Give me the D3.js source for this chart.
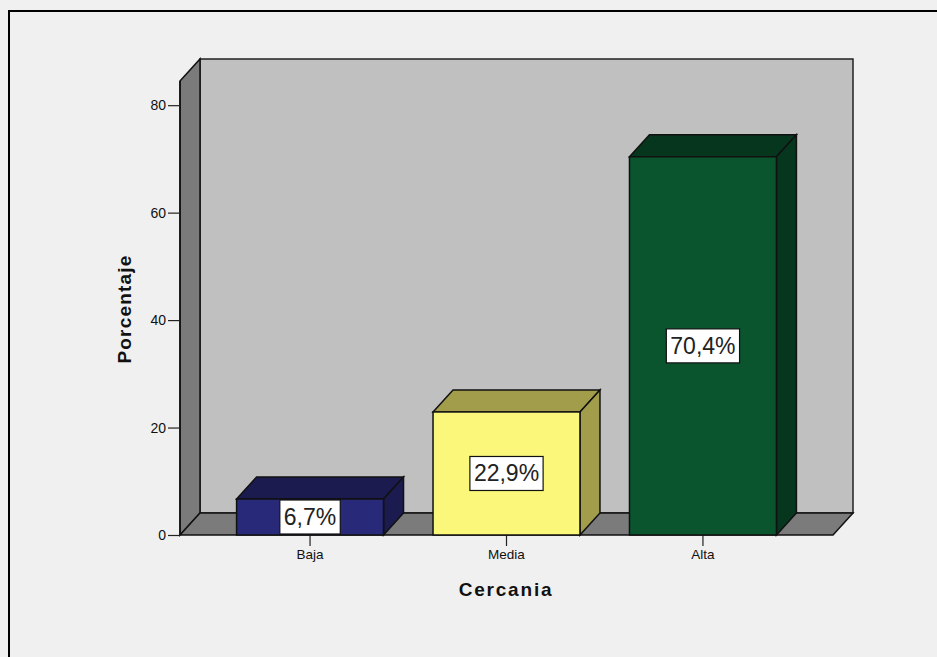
<!DOCTYPE html>
<html>
<head>
<meta charset="utf-8">
<script src="https://cdn.jsdelivr.net/npm/d3@7"></script>
<style>
  body { margin: 0; background: #f0f0f0; }
  svg { display: block; }
</style>
</head>
<body>
<svg id="chart" width="937" height="657"></svg>
<script>
// data
const categories = ["Baja", "Media", "Alta"]
const values = [6.7, 22.9, 70.4]
const valueLabels = ["6,7%", "22,9%", "70,4%"]
const yTicks = [0, 20, 40, 60, 80]
const frontColors = ["#29297a", "#fbf77a", "#0a552e"]
const sideColors = ["#1b1b50", "#a19d4b", "#06361e"]

const svg = d3.select("#chart")
const font = "Arial, 'Liberation Sans', sans-serif"

// depth offsets for the 3d look
const dx = 20, dy = -22

const x = d3.scaleBand().domain(categories).range([180, 833]).paddingInner(0.252).paddingOuter(0.288)
const y = d3.scaleLinear().domain([0, 84.5]).range([535, 81])

const x0 = x.range()[0], x1 = x.range()[1]
const yTop = y(84.5), yBase = y(0)

// outer frame
svg.append("path")
    .attr("d", `M9,657 L9,11 L937,11`)
    .attr("fill", "none")
    .attr("stroke", "#000")
    .attr("stroke-width", 2)

const poly = (pts) => "M" + pts.map(p => p.join(",")).join("L") + "Z"

// back wall
svg.append("path")
    .attr("d", poly([[x0 + dx, yTop + dy], [x1 + dx, yTop + dy], [x1 + dx, yBase + dy], [x0 + dx, yBase + dy]]))
    .attr("fill", "#c0c0c0").attr("stroke", "#222").attr("stroke-width", 1.5)

// left side wall
svg.append("path")
    .attr("d", poly([[x0, yTop], [x0 + dx, yTop + dy], [x0 + dx, yBase + dy], [x0, yBase]]))
    .attr("fill", "#7b7b7b").attr("stroke", "#111").attr("stroke-width", 1.5)

// floor
svg.append("path")
    .attr("d", poly([[x0, yBase], [x0 + dx, yBase + dy], [x1 + dx, yBase + dy], [x1, yBase]]))
    .attr("fill", "#7b7b7b").attr("stroke", "#111").attr("stroke-width", 1.5)

// y axis
const yAxis = svg.append("g")
    .attr("transform", `translate(${x0},0)`)
    .call(d3.axisLeft(y).tickValues(yTicks).tickSize(12).tickPadding(2).tickSizeOuter(0))
yAxis.select(".domain").attr("d", `M0,${yTop}V${yBase}`).attr("stroke", "#111").attr("stroke-width", 1.5)
yAxis.selectAll(".tick line").attr("stroke", "#222").attr("stroke-width", 1.2)
yAxis.selectAll("text").attr("font-family", font).attr("font-size", 14).attr("fill", "#111")

// x axis ticks and labels
const xAxis = svg.append("g")
    .attr("transform", `translate(0,${yBase})`)
    .call(d3.axisBottom(x).tickSize(11).tickPadding(3).tickSizeOuter(0))
xAxis.select(".domain").remove()
xAxis.selectAll(".tick line").attr("stroke", "#222").attr("stroke-width", 1.2)
xAxis.selectAll("text").attr("font-family", font).attr("font-size", 13.5).attr("fill", "#111")

// bars
const bars = svg.append("g").selectAll("g")
    .data(categories)
    .join("g")

bars.each(function(c, i) {
    const g = d3.select(this)
    const bx0 = x(c), bx1 = x(c) + x.bandwidth()
    const by = y(values[i])
    // top face
    g.append("path")
        .attr("d", poly([[bx0, by], [bx0 + dx, by + dy], [bx1 + dx, by + dy], [bx1, by]]))
        .attr("fill", sideColors[i]).attr("stroke", "#111").attr("stroke-width", 1.5)
    // right face
    g.append("path")
        .attr("d", poly([[bx1, by], [bx1 + dx, by + dy], [bx1 + dx, yBase + dy], [bx1, yBase]]))
        .attr("fill", sideColors[i]).attr("stroke", "#111").attr("stroke-width", 1.5)
    // front face
    g.append("rect")
        .attr("x", bx0).attr("y", by)
        .attr("width", x.bandwidth()).attr("height", yBase - by)
        .attr("fill", frontColors[i]).attr("stroke", "#111").attr("stroke-width", 1.5)

    // value label box
    const cx = bx0 + x.bandwidth() / 2
    const cy = (by + yBase) / 2
    const t = g.append("text")
        .attr("x", cx).attr("y", cy)
        .attr("text-anchor", "middle")
        .attr("dominant-baseline", "central")
        .attr("font-family", font).attr("font-size", 23)
        .attr("fill", "#222")
        .text(valueLabels[i])
    const bb = t.node().getBBox()
    g.insert("rect", "text")
        .attr("x", cx - bb.width / 2 - 4).attr("y", cy - 17)
        .attr("width", bb.width + 8).attr("height", 34)
        .attr("fill", "#fff").attr("stroke", "#111").attr("stroke-width", 1.2)
})

// axis titles
svg.append("text")
    .attr("transform", `translate(131,309) rotate(-90)`)
    .attr("text-anchor", "middle")
    .attr("font-family", font).attr("font-size", 19).attr("font-weight", "bold")
    .attr("letter-spacing", 1.2)
    .attr("fill", "#111")
    .text("Porcentaje")

svg.append("text")
    .attr("x", 506).attr("y", 596)
    .attr("text-anchor", "middle")
    .attr("font-family", font).attr("font-size", 19).attr("font-weight", "bold")
    .attr("letter-spacing", 1.8)
    .attr("fill", "#111")
    .text("Cercania")
</script>
</body>
</html>
